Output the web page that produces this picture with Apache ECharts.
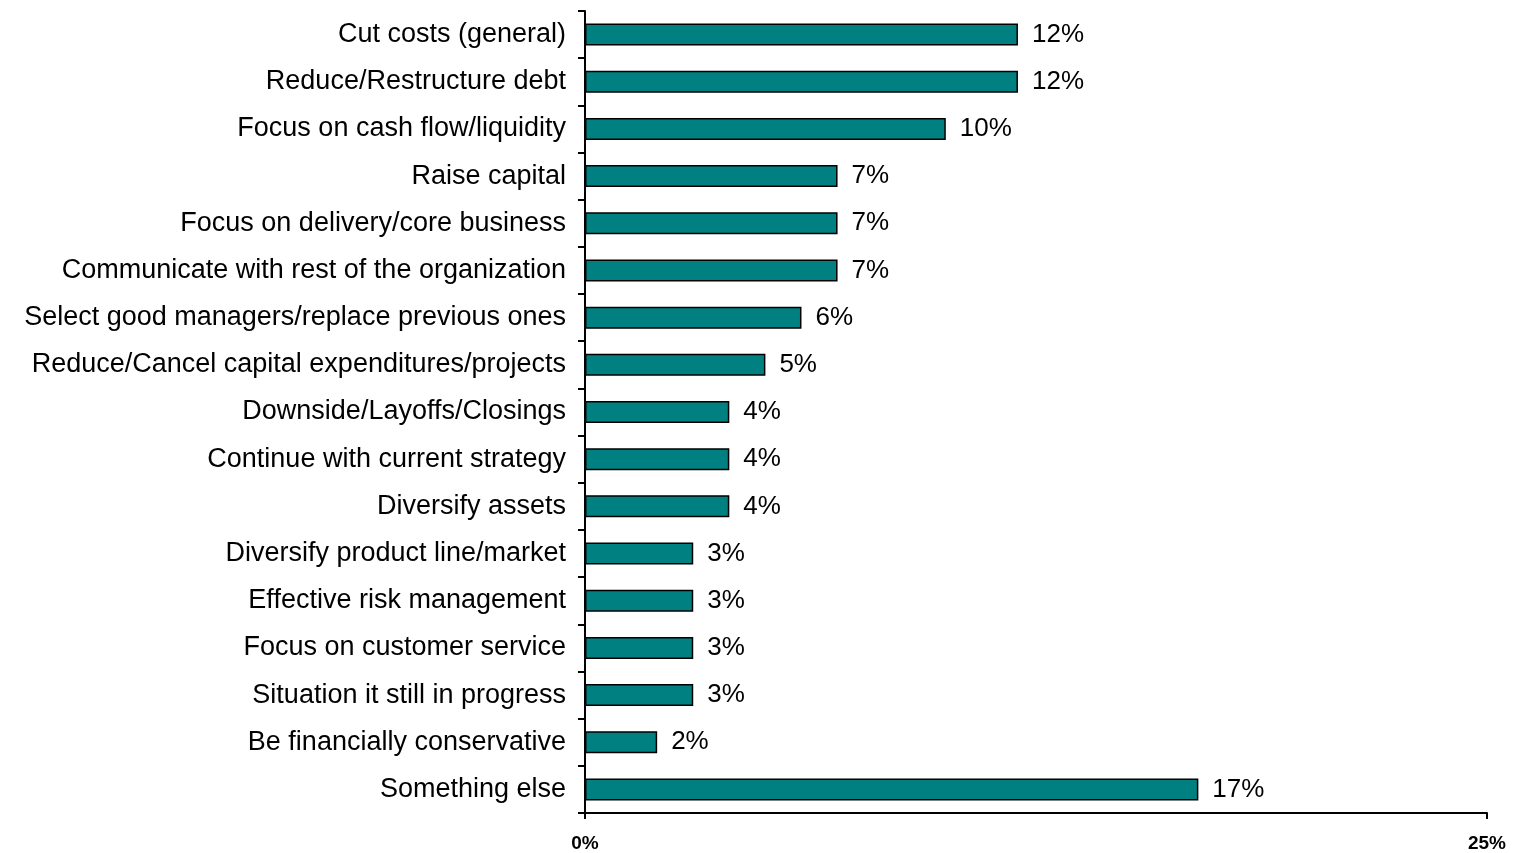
<!DOCTYPE html>
<html>
<head>
<meta charset="utf-8">
<script src="https://cdn.jsdelivr.net/npm/echarts@6/dist/echarts.min.js"></script>
<style>
  html, body { margin: 0; padding: 0; background: #ffffff; }
  #chart { width: 1519px; height: 853px; }
</style>
</head>
<body>
<div id="chart"></div>
<script>
// Responses, listed top to bottom
const categories = [
  'Cut costs (general)',
  'Reduce/Restructure debt',
  'Focus on cash flow/liquidity',
  'Raise capital',
  'Focus on delivery/core business',
  'Communicate with rest of the organization',
  'Select good managers/replace previous ones',
  'Reduce/Cancel capital expenditures/projects',
  'Downside/Layoffs/Closings',
  'Continue with current strategy',
  'Diversify assets',
  'Diversify product line/market',
  'Effective risk management',
  'Focus on customer service',
  'Situation it still in progress',
  'Be financially conservative',
  'Something else'
];
// Share of respondents, percent
const values = [12, 12, 10, 7, 7, 7, 6, 5, 4, 4, 4, 3, 3, 3, 3, 2, 17];
// x-axis range and labelled ticks, percent
const axisMin = 0;
const axisMax = 25;

const chart = echarts.init(document.getElementById('chart'), null, { renderer: 'canvas' });

const font = '"Liberation Sans", Arial, sans-serif';

chart.setOption({
  animation: false,
  backgroundColor: '#ffffff',
  grid: { left: 585, right: 32, top: 11, bottom: 40, containLabel: false },
  xAxis: {
    type: 'value',
    min: axisMin,
    max: axisMax,
    interval: axisMax - axisMin,
    axisLine: { show: true, lineStyle: { color: '#000', width: 2 } },
    axisTick: { show: true, length: 6, lineStyle: { color: '#000', width: 2 } },
    axisLabel: {
      formatter: v => v + '%',
      color: '#000',
      fontFamily: font,
      fontWeight: 'bold',
      fontSize: 19,
      margin: 21
    },
    splitLine: { show: false }
  },
  yAxis: {
    type: 'category',
    data: categories,
    inverse: true,
    axisLine: { show: true, lineStyle: { color: '#000', width: 2 } },
    axisTick: { show: true, length: 7, alignWithLabel: false, lineStyle: { color: '#000', width: 2 } },
    axisLabel: {
      color: '#000',
      fontFamily: font,
      fontSize: 27,
      margin: 19,
      padding: [4, 0, 0, 0]
    },
    splitLine: { show: false }
  },
  series: [{
    type: 'bar',
    data: values,
    barWidth: 22,
    itemStyle: { color: '#008080', borderColor: '#000', borderWidth: 1.5 },
    label: {
      show: true,
      position: 'right',
      distance: 14,
      padding: [5, 0, 0, 0],
      formatter: p => p.value + '%',
      color: '#000',
      fontFamily: font,
      fontSize: 26
    }
  }]
});
</script>
</body>
</html>
